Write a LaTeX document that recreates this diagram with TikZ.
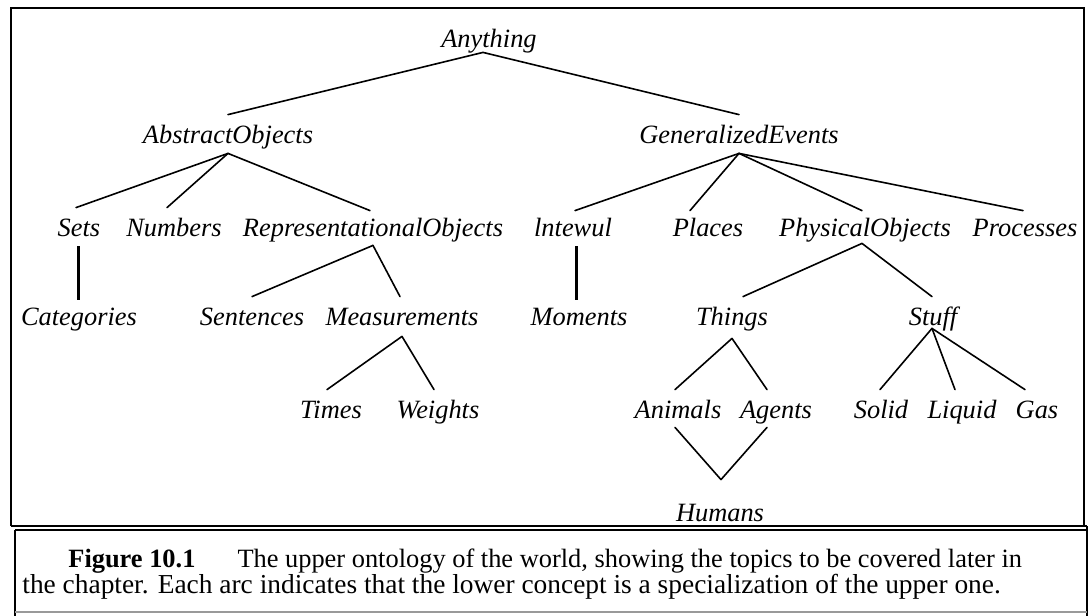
\documentclass[tikz,border=0pt]{standalone}
\usepackage{fontspec}
\setmainfont{Liberation Serif}
\begin{document}
\begin{tikzpicture}[x=0.5pt,y=-0.5pt,
  lbl/.style={font=\fontsize{13.2}{15}\selectfont\itshape, anchor=base, inner sep=0pt, text height=14pt, text depth=5pt},
  arc/.style={line width=0.8pt, line cap=round},
  thickarc/.style={line width=1.5pt},
  frame/.style={line width=1pt},
  captext/.style={anchor=base west, inner sep=0pt}]
\useasboundingbox (0,0) rectangle (1089,616);
% frames
\draw[frame] (11,526) -- (11,8) -- (1084,8) -- (1084,526);
\draw[frame] (11,526) -- (1087,526);
\draw[frame] (15,530) -- (1087,530);
\draw[frame] (15,530) -- (15,616);
\draw[frame] (1087,526) -- (1087,616);
\draw[line width=0.8pt, black!40] (15,612) -- (1087,612);
% nodes
\node[lbl] (anything) at (489,47) {Anything};
\node[lbl] (abs) at (228,143) {AbstractObjects};
\node[lbl] (gen) at (739,143) {GeneralizedEvents};
\node[lbl] (sets) at (79,236) {Sets};
\node[lbl] (numbers) at (174,236) {Numbers};
\node[lbl] (repobj) at (373,236) {RepresentationalObjects};
\node[lbl] (intewul) at (573,236) {lntewul};
\node[lbl] (places) at (708,236) {Places};
\node[lbl] (physobj) at (865,236) {PhysicalObjects};
\node[lbl] (processes) at (1025,236) {Processes};
\node[lbl] (categories) at (79,325) {Categories};
\node[lbl] (sentences) at (252,325) {Sentences};
\node[lbl] (measurements) at (402,325) {Measurements};
\node[lbl] (moments) at (579,325) {Moments};
\node[lbl] (things) at (732,325) {Things};
\node[lbl] (stuff) at (933,325) {Stuff};
\node[lbl] (times) at (331,418) {Times};
\node[lbl] (weights) at (438,418) {Weights};
\node[lbl] (animals) at (678,418) {Animals};
\node[lbl] (agents) at (776,418) {Agents};
\node[lbl] (solid) at (881,418) {Solid};
\node[lbl] (liquid) at (962,418) {Liquid};
\node[lbl] (gas) at (1037,418) {Gas};
\node[lbl, text height=20.5pt] (humans) at (720,521) {Humans};
% connectors
\draw[arc] ([xshift=-3pt,yshift=2.5pt]anything.south) -- (abs.north);
\draw[arc] ([xshift=-3pt,yshift=2.5pt]anything.south) -- (gen.north);
\draw[arc] (abs.south) -- ([xshift=-1.5pt]sets.north);
\draw[arc] (abs.south) -- ([xshift=-3.5pt]numbers.north);
\draw[arc] (abs.south) -- ([xshift=-1.5pt,yshift=-1.5pt]repobj.north);
\draw[arc] (gen.south) -- ([xshift=1pt,yshift=-1.5pt]intewul.north);
\draw[arc] (gen.south) -- ([xshift=-9pt,yshift=-1.5pt]places.north);
\draw[arc] (gen.south) -- ([xshift=-1.5pt,yshift=-1.5pt]physobj.north);
\draw[arc] (gen.south) -- ([xshift=-1pt,yshift=-1.5pt]processes.north);
\draw[thickarc] ([xshift=-0.5pt]sets.south) -- ([xshift=-0.5pt,yshift=-1.5pt]categories.north);
\draw[arc] ([yshift=0.5pt]repobj.south) -- (sentences.north);
\draw[arc] ([yshift=0.5pt]repobj.south) -- ([xshift=-1pt]measurements.north);
\draw[thickarc] ([xshift=1.5pt]intewul.south) -- ([xshift=-1.5pt,yshift=-1.5pt]moments.north);
\draw[arc] ([xshift=-1.5pt,yshift=1.5pt]physobj.south) -- ([xshift=5.5pt]things.north);
\draw[arc] ([xshift=-1.5pt,yshift=1.5pt]physobj.south) -- ([xshift=-0.5pt]stuff.north);
\draw[arc] ([yshift=-0.5pt]measurements.south) -- ([xshift=-2pt]times.north);
\draw[arc] ([yshift=-0.5pt]measurements.south) -- ([xshift=-2pt]weights.north);
\draw[arc] ([yshift=-1.5pt]things.south) -- ([xshift=-1.5pt]animals.north);
\draw[arc] ([yshift=-1.5pt]things.south) -- ([xshift=-4.5pt]agents.north);
\draw[arc] ([xshift=-0.5pt,yshift=3.5pt]stuff.south) -- ([xshift=-0.5pt]solid.north);
\draw[arc] ([xshift=-0.5pt,yshift=3.5pt]stuff.south) -- ([xshift=-3.5pt]liquid.north);
\draw[arc] ([xshift=-0.5pt,yshift=3.5pt]stuff.south) -- ([xshift=-6pt]gas.north);
\draw[arc] ([xshift=-1.5pt,yshift=0.5pt]animals.south) -- ([xshift=0.5pt]humans.north);
\draw[arc] ([xshift=-4.5pt,yshift=0.5pt]agents.south) -- ([xshift=0.5pt]humans.north);
% caption
\node[captext, font=\fontsize{13.2}{15}\selectfont] (cap1) at (68,567) {\textbf{Figure 10.1}\hspace{21pt}The upper ontology of the world, showing the topics to be covered later in};
\node[captext, font=\fontsize{13.7}{15}\selectfont] (cap2) at (22,593) {the chapter. Each arc indicates that the lower concept is a specialization of the upper one.};
\end{tikzpicture}
\end{document}
